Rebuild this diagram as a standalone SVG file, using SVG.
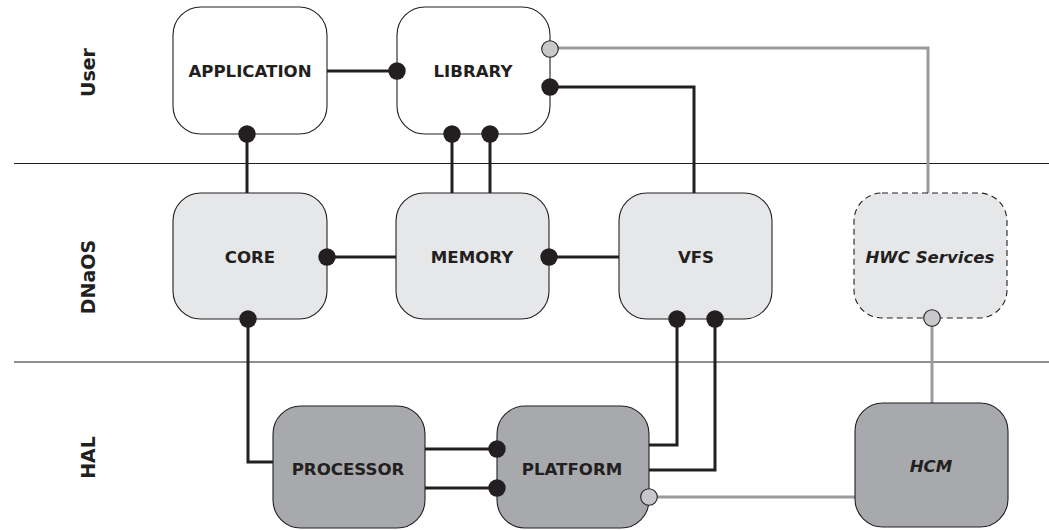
<svg xmlns="http://www.w3.org/2000/svg" width="1049" height="530" viewBox="0 0 1049 530">
<style>
.box{stroke:#231f20;stroke-width:1.1}
.user{fill:#ffffff}
.os{fill:#e6e7e8}
.hal{fill:#a7a9ac}
.dash{stroke-dasharray:6,4}
.lbl{font-family:"DejaVu Sans",sans-serif;font-weight:bold;font-size:16.6px;fill:#231f20;text-anchor:middle;dominant-baseline:central}
.it{font-style:italic}
.layer{font-family:"DejaVu Sans",sans-serif;font-weight:bold;font-size:19px;fill:#231f20;text-anchor:middle;dominant-baseline:central}
.sep{stroke:#231f20;stroke-width:1.2;fill:none}
.blk{stroke:#231f20;stroke-width:3;fill:none}
.gry{stroke:#9a9b9d;stroke-width:3;fill:none}
.bdot{fill:#231f20}
.gdot{fill:#c7c8ca;stroke:#231f20;stroke-width:1.1}
</style>
<rect width="1049" height="530" fill="#ffffff"/>
<g id="separators">
<line class="sep" x1="14" y1="163.5" x2="1049" y2="163.5"/>
<line class="sep" x1="14" y1="362" x2="1049" y2="362"/>
</g>
<g id="layers">
<text class="layer" transform="translate(88,72.5) rotate(-90)">User</text>
<text class="layer" transform="translate(88,277) rotate(-90)">DNaOS</text>
<text class="layer" transform="translate(88,457.5) rotate(-90)">HAL</text>
</g>
<g id="connectors">
<path class="gry" d="M550,48 H928 V193"/>
<path class="blk" d="M550,87 H694 V193"/>
<path class="blk" d="M327,71 H397"/>
<path class="blk" d="M247,134 V193"/>
<path class="blk" d="M452,134 V193"/>
<path class="blk" d="M490,134 V193"/>
<path class="blk" d="M327,257 H396"/>
<path class="blk" d="M549,257 H619"/>
<path class="blk" d="M248,319 V462 H273"/>
<path class="blk" d="M425,449 H497"/>
<path class="blk" d="M425,488 H497"/>
<path class="blk" d="M677,319 V445 H649"/>
<path class="blk" d="M715,319 V470 H649"/>
<path class="gry" d="M649,497 H855"/>
<path class="gry" d="M932,318 V403"/>
</g>
<g id="application">
<rect class="box user" x="173" y="7" width="154" height="127" rx="28"/>
<text class="lbl" x="250" y="71">APPLICATION</text>
</g>
<g id="library">
<rect class="box user" x="397" y="7" width="153" height="127" rx="28"/>
<text class="lbl" x="473" y="71">LIBRARY</text>
</g>
<g id="core">
<rect class="box os" x="173" y="193" width="154" height="126" rx="28"/>
<text class="lbl" x="250" y="257">CORE</text>
</g>
<g id="memory">
<rect class="box os" x="396" y="193" width="153" height="126" rx="28"/>
<text class="lbl" x="472" y="257">MEMORY</text>
</g>
<g id="vfs">
<rect class="box os" x="619" y="193" width="153" height="126" rx="28"/>
<text class="lbl" x="696" y="257">VFS</text>
</g>
<g id="hwc-services">
<rect class="box os dash" x="854" y="193" width="153" height="125" rx="28"/>
<text class="lbl it" x="930" y="257">HWC Services</text>
</g>
<g id="processor">
<rect class="box hal" x="273" y="406" width="152" height="122" rx="28"/>
<text class="lbl" x="348" y="469">PROCESSOR</text>
</g>
<g id="platform">
<rect class="box hal" x="497" y="406" width="152" height="122" rx="28"/>
<text class="lbl" x="572" y="469">PLATFORM</text>
</g>
<g id="hcm">
<rect class="box hal" x="855" y="403" width="153" height="124" rx="28"/>
<text class="lbl it" x="931" y="466">HCM</text>
</g>
<g id="ports">
<circle class="bdot" cx="397" cy="71" r="8.7"/>
<circle class="bdot" cx="247" cy="134" r="8.7"/>
<circle class="bdot" cx="452" cy="134" r="8.7"/>
<circle class="bdot" cx="490" cy="134" r="8.7"/>
<circle class="gdot" cx="550" cy="49" r="8.3"/>
<circle class="bdot" cx="550" cy="87" r="8.7"/>
<circle class="bdot" cx="327" cy="257" r="8.7"/>
<circle class="bdot" cx="549" cy="257" r="8.7"/>
<circle class="bdot" cx="248" cy="319" r="8.7"/>
<circle class="bdot" cx="677" cy="319" r="8.7"/>
<circle class="bdot" cx="715" cy="319" r="8.7"/>
<circle class="gdot" cx="932" cy="318" r="8.3"/>
<circle class="bdot" cx="497" cy="449" r="8.7"/>
<circle class="bdot" cx="497" cy="488" r="8.7"/>
<circle class="gdot" cx="649" cy="497" r="8.3"/>
</g>
</svg>
